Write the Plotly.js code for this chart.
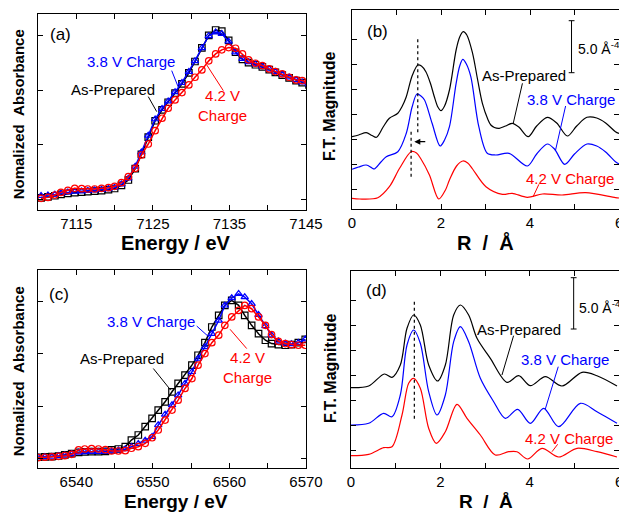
<!DOCTYPE html>
<html>
<head>
<meta charset="utf-8">
<script src="https://cdn.plot.ly/plotly-3.0.1.min.js"></script>
<style>html,body{margin:0;padding:0;background:#fff;}#chart{width:619px;height:513px;}</style>
</head>
<body>
<div id="chart"></div>
<script>
// ---------- Panel (a): Fe K-edge XANES ----------
const energyA = [7110.4, 7111.3, 7112.2, 7113.0, 7113.9, 7114.8, 7115.7, 7116.5, 7117.4, 7118.3, 7119.2, 7120.0, 7120.9, 7121.8, 7122.7, 7123.5, 7124.4, 7125.3, 7126.2, 7127.0, 7127.9, 7128.8, 7129.7, 7130.5, 7131.4, 7132.3, 7133.2, 7134.0, 7134.9, 7135.8, 7136.7, 7137.5, 7138.4, 7139.3, 7140.2, 7141.0, 7141.9, 7142.8, 7143.7, 7144.5, 7145.4];
const asPreparedA = [0.010, 0.020, 0.030, 0.042, 0.052, 0.058, 0.063, 0.068, 0.073, 0.078, 0.086, 0.097, 0.125, 0.175, 0.28, 0.41, 0.57, 0.72, 0.82, 0.89, 0.975, 1.06, 1.16, 1.265, 1.39, 1.505, 1.555, 1.545, 1.46, 1.35, 1.285, 1.255, 1.235, 1.215, 1.19, 1.165, 1.14, 1.115, 1.09, 1.07, 1.05];
const charge38A = [0.030, 0.035, 0.042, 0.052, 0.062, 0.068, 0.072, 0.076, 0.080, 0.085, 0.093, 0.105, 0.135, 0.19, 0.30, 0.43, 0.585, 0.735, 0.83, 0.90, 0.985, 1.07, 1.17, 1.27, 1.39, 1.50, 1.535, 1.52, 1.45, 1.35, 1.29, 1.26, 1.24, 1.22, 1.195, 1.17, 1.145, 1.12, 1.095, 1.075, 1.055];
const charge42A = [0.006, 0.015, 0.037, 0.061, 0.080, 0.098, 0.095, 0.092, 0.092, 0.098, 0.104, 0.117, 0.150, 0.206, 0.282, 0.405, 0.506, 0.629, 0.743, 0.835, 0.912, 0.979, 1.050, 1.120, 1.188, 1.271, 1.335, 1.372, 1.393, 1.387, 1.335, 1.280, 1.249, 1.228, 1.197, 1.172, 1.151, 1.120, 1.096, 1.090, 1.071];
const tickValsA = [7110, 7115, 7120, 7125, 7130, 7135, 7140, 7145];
const tickTextA = ["", "7115", "", "7125", "", "7135", "", "7145"];

// ---------- Panel (c): Mn K-edge XANES ----------
const energyC = [6535.0, 6535.9, 6536.8, 6537.7, 6538.5, 6539.4, 6540.3, 6541.1, 6542.0, 6542.9, 6543.8, 6544.6, 6545.5, 6546.4, 6547.2, 6548.1, 6549.0, 6549.9, 6550.7, 6551.6, 6552.5, 6553.3, 6554.2, 6555.1, 6555.9, 6556.8, 6557.7, 6558.6, 6559.4, 6560.3, 6561.2, 6562.0, 6562.9, 6563.8, 6564.7, 6565.5, 6566.4, 6567.3, 6568.1, 6569.0, 6569.9];
const asPreparedC = [0.010, 0.013, 0.016, 0.022, 0.032, 0.045, 0.057, 0.061, 0.064, 0.064, 0.067, 0.080, 0.089, 0.111, 0.175, 0.223, 0.303, 0.382, 0.462, 0.541, 0.637, 0.717, 0.796, 0.892, 0.987, 1.108, 1.258, 1.369, 1.465, 1.513, 1.465, 1.369, 1.274, 1.194, 1.131, 1.099, 1.089, 1.083, 1.089, 1.108, 1.140];
const charge38C = [0.010, 0.013, 0.016, 0.022, 0.030, 0.042, 0.055, 0.060, 0.063, 0.063, 0.063, 0.068, 0.078, 0.090, 0.110, 0.140, 0.170, 0.207, 0.318, 0.42, 0.51, 0.605, 0.717, 0.828, 0.955, 1.067, 1.194, 1.32, 1.465, 1.535, 1.576, 1.545, 1.48, 1.376, 1.268, 1.178, 1.121, 1.099, 1.096, 1.108, 1.14];
const charge42C = [0.006, 0.010, 0.013, 0.019, 0.025, 0.038, 0.080, 0.089, 0.092, 0.089, 0.083, 0.070, 0.070, 0.073, 0.096, 0.111, 0.143, 0.197, 0.271, 0.366, 0.462, 0.557, 0.669, 0.764, 0.892, 1.003, 1.108, 1.18, 1.274, 1.354, 1.417, 1.465, 1.433, 1.354, 1.274, 1.185, 1.121, 1.099, 1.089, 1.083, 1.083];
const tickValsC = [6535, 6540, 6545, 6550, 6555, 6560, 6565, 6570];
const tickTextC = ["", "6540", "", "6550", "", "6560", "", "6570"];

// ---------- Panel (b): Fe FT-EXAFS (offset curves) ----------
const rBlackB = [0, 0.15, 0.32, 0.45, 0.55, 0.7, 0.84, 1.03, 1.12, 1.22, 1.35, 1.48, 1.56, 1.66, 1.76, 1.85, 1.93, 2.0, 2.08, 2.19, 2.34, 2.42, 2.5, 2.58, 2.71, 2.82, 2.93, 3.05, 3.12, 3.2, 3.31, 3.45, 3.6, 3.75, 3.96, 4.15, 4.39, 4.6, 4.84, 5.05, 5.28, 5.5, 5.7, 5.92, 6.0];
const asPreparedB = [7.23, 7.4, 7.63, 7.35, 7.17, 8.2, 9.07, 9.57, 10.2, 11.23, 13.3, 14.4, 14.3, 13.73, 12.6, 11.23, 10.2, 9.83, 10.3, 11.9, 15.9, 17.2, 17.73, 17.4, 15.57, 13.0, 10.57, 9.0, 8.4, 8.15, 8.07, 8.3, 8.57, 8.2, 7.23, 8.3, 9.17, 8.6, 7.3, 8.3, 9.17, 9.1, 8.6, 7.73, 7.55];
const rBlueB = [0, 0.15, 0.32, 0.45, 0.5, 0.65, 0.77, 1.03, 1.22, 1.35, 1.46, 1.55, 1.63, 1.8, 1.98, 2.08, 2.19, 2.34, 2.42, 2.49, 2.57, 2.67, 2.85, 3.04, 3.23, 3.53, 3.94, 4.15, 4.39, 4.55, 4.78, 5.0, 5.28, 5.5, 5.7, 5.92, 6.0];
const charge38B = [3.97, 4.2, 4.4, 4.1, 4.0, 4.7, 5.23, 5.73, 7.57, 10.2, 11.5, 11.3, 10.9, 8.57, 6.3, 6.9, 8.23, 12.57, 14.3, 14.97, 14.5, 13.23, 8.23, 5.57, 5.4, 5.57, 4.3, 5.5, 6.5, 6.0, 4.47, 5.5, 6.5, 6.3, 5.7, 4.73, 4.5];
const rRedB = [0, 0.17, 0.58, 0.84, 1.07, 1.33, 1.45, 1.55, 1.74, 1.95, 2.1, 2.19, 2.35, 2.49, 2.6, 2.71, 3.01, 3.38, 3.6, 3.94, 4.28, 4.72, 5.25, 5.92, 6.0];
const charge42B = [1.07, 1.0, 1.13, 2.23, 4.07, 5.73, 5.6, 5.0, 3.4, 1.0, 1.9, 2.9, 4.3, 4.8, 4.6, 4.0, 2.23, 1.47, 1.57, 1.17, 1.5, 1.4, 1.63, 1.13, 1.1];

// ---------- Panel (d): Mn FT-EXAFS (offset curves) ----------
const rBlackD = [0, 0.396, 0.746, 0.918, 1.104, 1.254, 1.403, 1.552, 1.739, 1.94, 2.112, 2.299, 2.448, 2.634, 2.821, 3.119, 3.493, 3.754, 4.015, 4.351, 4.724, 5.172, 5.507, 5.955];
const asPreparedD = [8.23, 8.4, 9.6, 9.27, 10.5, 14.17, 15.5, 14.5, 10.5, 8.9, 10.5, 15.5, 16.5, 15.5, 13.17, 11.17, 8.77, 9.43, 8.43, 9.33, 8.4, 9.77, 9.43, 8.4];
const rBlueD = [0, 0.396, 0.731, 0.918, 1.104, 1.254, 1.403, 1.552, 1.739, 1.925, 2.112, 2.299, 2.448, 2.634, 2.896, 3.194, 3.455, 3.731, 4.015, 4.313, 4.649, 5.134, 5.507, 5.955];
const charge38D = [4.5, 4.67, 5.67, 5.33, 7.5, 12.5, 14.0, 12.67, 7.83, 5.5, 7.5, 12.83, 14.33, 12.83, 9.17, 6.83, 5.17, 6.07, 4.67, 6.17, 4.33, 6.67, 5.83, 4.67];
const rRedD = [0, 0.396, 0.731, 0.918, 1.142, 1.291, 1.403, 1.552, 1.739, 1.91, 2.112, 2.373, 2.597, 2.896, 3.231, 3.53, 3.716, 3.955, 4.276, 4.649, 5.06, 5.507, 5.955];
const charge42D = [1.43, 1.57, 2.23, 2.33, 5.5, 8.67, 9.17, 8.17, 4.17, 2.67, 3.83, 6.57, 5.17, 3.5, 1.5, 1.83, 1.83, 1.1, 2.17, 1.3, 2.17, 1.83, 1.3];
const tickValsR = [0, 1, 2, 3, 4, 5, 6];
const tickTextR = ["0", "", "2", "", "4", "", "6"];
const tickValsFT = [2, 4.5, 7, 9.5, 12, 14.5, 17];
const tickValsXanes = [0, 0.5, 1.0, 1.5];

const seriesNames = ["As-Prepared", "3.8 V Charge", "4.2 V Charge"];
const BLACK = "#000000", BLUE = "#0000ff", RED = "#ff0000";
const FONT = "Liberation Sans, Arial, sans-serif";
const W = 619, H = 513;

function xanes(x, y, color, symbol, xa, ya, name) {
  return {x: x, y: y, xaxis: xa, yaxis: ya, name: name, type: "scatter", mode: "lines+markers",
    line: {color: color, width: 1.5},
    marker: {symbol: symbol, size: 6.5, color: color, line: {color: color, width: 1.2}}};
}
function ft(x, y, color, xa, ya, name) {
  return {x: x, y: y, xaxis: xa, yaxis: ya, name: name, type: "scatter", mode: "lines",
    line: {color: color, width: 1.2, shape: "spline", smoothing: 0.9}};
}

const data = [
  xanes(energyA, asPreparedA, BLACK, "square-open", "x", "y", seriesNames[0]),
  xanes(energyA, charge38A, BLUE, "triangle-up-open", "x", "y", seriesNames[1]),
  xanes(energyA, charge42A, RED, "circle-open", "x", "y", seriesNames[2]),
  ft(rBlackB, asPreparedB, BLACK, "x2", "y2", seriesNames[0]),
  ft(rBlueB, charge38B, BLUE, "x2", "y2", seriesNames[1]),
  ft(rRedB, charge42B, RED, "x2", "y2", seriesNames[2]),
  xanes(energyC, asPreparedC, BLACK, "square-open", "x3", "y3", seriesNames[0]),
  xanes(energyC, charge38C, BLUE, "triangle-up-open", "x3", "y3", seriesNames[1]),
  xanes(energyC, charge42C, RED, "circle-open", "x3", "y3", seriesNames[2]),
  ft(rBlackD, asPreparedD, BLACK, "x4", "y4", seriesNames[0]),
  ft(rBlueD, charge38D, BLUE, "x4", "y4", seriesNames[1]),
  ft(rRedD, charge42D, RED, "x4", "y4", seriesNames[2])
];

function axis(extra) {
  return Object.assign({
    showline: true, linecolor: "#000", linewidth: 1, mirror: "ticks",
    ticks: "inside", ticklen: 5, tickwidth: 1, tickcolor: "#000",
    showgrid: false, zeroline: false, tickmode: "array",
    tickfont: {family: FONT, size: 15, color: "#000"}
  }, extra);
}
const leftX = [38 / W, 306 / W];
const rightXb = [352 / W, 1];
const rightXd = [351 / W, 1];

const layout = {
  width: W, height: H, margin: {l: 0, r: 0, t: 0, b: 0},
  paper_bgcolor: "#fff", plot_bgcolor: "#fff", showlegend: false,
  font: {family: FONT, color: "#000"},
  xaxis: axis({domain: leftX, range: [7110, 7145], tickvals: tickValsA, ticktext: tickTextA, anchor: "y"}),
  yaxis: axis({domain: [1 - 210 / H, 1 - 14 / H], range: [-0.101, 1.702], tickvals: tickValsXanes, showticklabels: false, anchor: "x"}),
  xaxis2: axis({domain: rightXb, range: [0, 6], tickvals: tickValsR, ticktext: tickTextR, anchor: "y2"}),
  yaxis2: axis({domain: [1 - 209 / H, 1 - 10 / H], range: [0, 19.9], tickvals: tickValsFT, showticklabels: false, anchor: "x2"}),
  xaxis3: axis({domain: leftX, range: [6535, 6570], tickvals: tickValsC, ticktext: tickTextC, anchor: "y3"}),
  yaxis3: axis({domain: [1 - 468 / H, 1 - 270 / H], range: [-0.093, 1.804], tickvals: tickValsXanes, showticklabels: false, anchor: "x3"}),
  xaxis4: axis({domain: rightXd, range: [0, 6], tickvals: tickValsR, ticktext: tickTextR, anchor: "y4"}),
  yaxis4: axis({domain: [1 - 468 / H, 1 - 271 / H], range: [0.2, 19.9], tickvals: tickValsFT, showticklabels: false, anchor: "x4"}),
  shapes: [],
  annotations: []
};

function seg(xr, yr, x0, y0, x1, y1, dash) {
  layout.shapes.push({type: "line", xref: xr, yref: yr, x0: x0, y0: y0, x1: x1, y1: y1,
    line: {color: arguments[7] || "#000", width: dash ? 1.2 : 1, dash: dash || "solid"}, layer: "above"});
}
function lab(xr, yr, x, y, text, color, size, opts) {
  layout.annotations.push(Object.assign({xref: xr, yref: yr, x: x, y: y, text: text, showarrow: false,
    font: {family: FONT, size: size || 15, color: color || "#000"}, xanchor: "center", yanchor: "middle"}, opts || {}));
}
function paperLab(px, py, text, size, angle) {
  layout.annotations.push({xref: "paper", yref: "paper", x: px / W, y: 1 - py / H, text: text, showarrow: false,
    textangle: angle || 0, font: {family: FONT, size: size, color: "#000"}, xanchor: "center", yanchor: "middle"});
}

// ---- panel (a) labels ----
lab("x", "y", 7113.0, 1.51, "(a)", "#000", 17);
lab("x", "y", 7122.2, 1.266, seriesNames[1], BLUE);
lab("x", "y", 7119.8, 1.012, seriesNames[0], BLACK);
lab("x", "y", 7134.1, 0.856, "4.2 V<br>Charge", RED);
seg("x", "y", 7127.46, 1.181, 7128.32, 1.029, null, BLUE);
seg("x", "y", 7124.4, 0.942, 7125.5, 0.804, null, BLACK);
seg("x", "y", 7132.03, 1.234, 7134.2, 0.997, null, RED);

// ---- panel (c) labels ----
lab("x3", "y3", 6537.8, 1.571, "(c)", "#000", 17);
lab("x3", "y3", 6549.7, 1.314, seriesNames[1], BLUE);
lab("x3", "y3", 6546.0, 0.960, seriesNames[0], BLACK);
lab("x3", "y3", 6562.4, 0.867, "4.2 V<br>Charge", RED);
seg("x3", "y3", 6555.73, 1.267, 6557.46, 1.153, null, BLUE);
seg("x3", "y3", 6550.06, 0.860, 6552.33, 0.653, null, BLACK);
seg("x3", "y3", 6562.26, 1.051, 6560.08, 1.236, null, RED);

// ---- panel (b) labels ----
lab("x2", "y2", 0.582, 17.73, "(b)", "#000", 17);
lab("x2", "y2", 3.866, 13.4, seriesNames[0], BLACK);
lab("x2", "y2", 4.925, 10.93, seriesNames[1], BLUE);
lab("x2", "y2", 4.888, 3.07, seriesNames[2], RED);
seg("x2", "y2", 3.83, 12.57, 3.62, 8.5, null, BLACK);
seg("x2", "y2", 4.8, 10.3, 4.575, 5.9, null, BLUE);
seg("x2", "y2", 4.2, 2.47, 4.07, 1.23, null, RED);
seg("x2", "y2", 4.933, 18.83, 4.933, 13.63);
seg("x2", "y2", 4.87, 18.83, 5.0, 18.83);
seg("x2", "y2", 4.87, 13.63, 5.0, 13.63);
lab("x2", "y2", 5.03, 16.13, "5.0 Å<sup>-4</sup>", "#000", 14, {xanchor: "left"});
seg("x2", "y2", 1.478, 16.97, 1.478, 7.57, "dot");
seg("x2", "y2", 1.328, 7.73, 1.328, 3.17, "dot");
layout.annotations.push({xref: "x2", yref: "y2", axref: "x2", ayref: "y2", x: 1.40, y: 6.73, ax: 1.68, ay: 6.73,
  text: "", showarrow: true, arrowhead: 2, arrowsize: 1, arrowwidth: 1.2, arrowcolor: "#000"});

// ---- panel (d) labels ----
lab("x4", "y4", 0.56, 18.0, "(d)", "#000", 17);
lab("x4", "y4", 3.754, 14.1, seriesNames[0], BLACK);
lab("x4", "y4", 4.784, 11.1, seriesNames[1], BLUE);
lab("x4", "y4", 4.873, 3.17, seriesNames[2], RED);
seg("x4", "y4", 3.64, 13.43, 3.38, 9.5, null, BLACK);
seg("x4", "y4", 4.64, 10.33, 4.35, 6.1, null, BLUE);
seg("x4", "y4", 4.627, 2.57, 4.5, 1.83, null, RED);
seg("x4", "y4", 4.985, 19.23, 4.985, 14.1);
seg("x4", "y4", 4.92, 19.23, 5.05, 19.23);
seg("x4", "y4", 4.92, 14.1, 5.05, 14.1);
lab("x4", "y4", 5.07, 16.33, "5.0 Å<sup>-4</sup>", "#000", 14, {xanchor: "left"});
seg("x4", "y4", 1.418, 16.83, 1.418, 5.0, "dot");

// ---- the "6" tick labels that run off the right edge (clipped as in the reference) ----
paperLab(619, 222, "6", 15);
paperLab(619, 481, "6", 15);

// ---- axis titles ----
paperLab(18.3, 114, "<b>Nomalized&nbsp;&nbsp;Absorbance</b>", 15, -90);
paperLab(18.3, 371, "<b>Nomalized&nbsp;&nbsp;Absorbance</b>", 15, -90);
paperLab(176, 243, "<b>Energy / eV</b>", 20);
paperLab(176, 501, "<b>Energy / eV</b>", 19);
paperLab(330, 107, "<b>F.T. Magnitude</b>", 16, -90);
paperLab(330, 369, "<b>F.T. Magnitude</b>", 16, -90);
paperLab(486, 243, "<b>R&nbsp;&nbsp;/&nbsp;&nbsp;Å</b>", 20);
paperLab(486, 501, "<b>R&nbsp;&nbsp;/&nbsp;&nbsp;Å</b>", 19);

Plotly.newPlot("chart", data, layout, {staticPlot: true, displayModeBar: false});
</script>
</body>
</html>
